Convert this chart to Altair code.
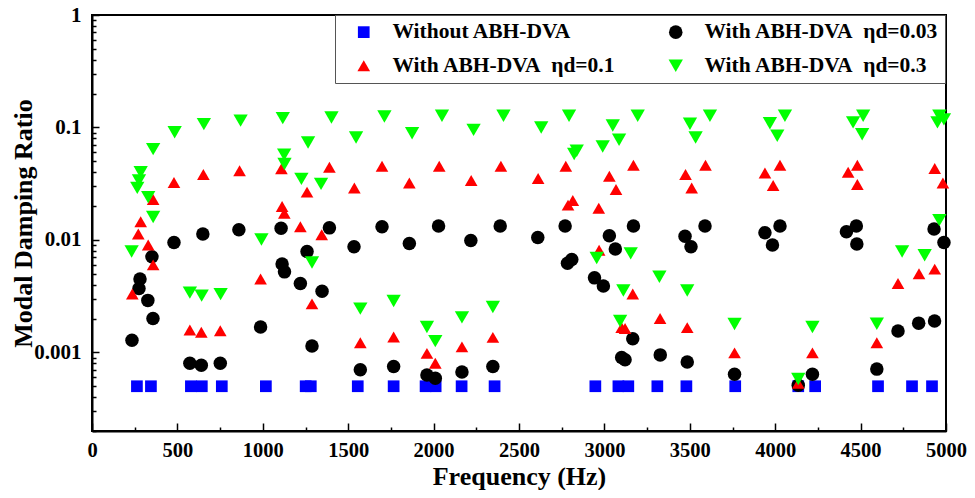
import altair as alt
import pandas as pd

# ---- data ----
series_names = [
    "Without ABH-DVA",
    "With ABH-DVA\u00a0\u00a0\u03b7d=0.03",
    "With ABH-DVA\u00a0\u00a0\u03b7d=0.1",
    "With ABH-DVA\u00a0\u00a0\u03b7d=0.3",
]
series_colors = ["#0000FF", "#000000", "#FF0000", "#00FF00"]
series_shapes = ["square", "circle", "triangle-up", "triangle-down"]
series_sizes = [137, 165, 205, 210]
# legend reading order (row by row, two columns)
legend_order = [0, 2, 1, 3]

freq_without = [263, 345, 579, 643, 760, 1018, 1251, 1281, 1556, 1766, 1953, 2012,
                2164, 2357, 2947, 3082, 3140, 3310, 3480, 3766, 4135, 4234, 4602,
                4801, 4918]
ratio_without = [0.0005, 0.0005, 0.0005, 0.0005, 0.0005, 0.0005, 0.0005, 0.0005,
                 0.0005, 0.0005, 0.0005, 0.0005, 0.0005, 0.0005, 0.0005, 0.0005,
                 0.0005, 0.0005, 0.0005, 0.0005, 0.0005, 0.0005, 0.0005, 0.0005,
                 0.0005]

freq_003 = [234, 275, 281, 327, 351, 357, 480, 573, 640, 649, 751, 860, 987, 1107,
            1113, 1127, 1220, 1259, 1288, 1347, 1390, 1534, 1571, 1698, 1766, 1858,
            1961, 2010, 2029, 2166, 2218, 2347, 2390, 2610, 2770, 2784, 2809, 2942,
            2994, 3029, 3064, 3101, 3121, 3166, 3170, 3327, 3472, 3485, 3507, 3589,
            3762, 3940, 3984, 4028, 4135, 4218, 4417, 4475, 4478, 4595, 4719, 4840,
            4933, 4930, 4988]
ratio_003 = [0.00128, 0.0037, 0.0045, 0.0029, 0.0071, 0.0020, 0.0095, 0.00080,
             0.00077, 0.0113, 0.00080, 0.0123, 0.00168, 0.0127, 0.0061, 0.0052,
             0.0041, 0.0079, 0.00114, 0.0035, 0.0128, 0.0087, 0.00070, 0.0131,
             0.00075, 0.0093, 0.00063, 0.00059, 0.0133, 0.00067, 0.0099, 0.00075,
             0.0133, 0.0105, 0.0133, 0.0062, 0.0067, 0.0046, 0.0039, 0.0109, 0.0083,
             0.00090, 0.00086, 0.00132, 0.0133, 0.00095, 0.0108, 0.00082, 0.0087,
             0.0133, 0.00064, 0.0116, 0.0090, 0.0133, 0.00051, 0.00064, 0.0118,
             0.0133, 0.0092, 0.00071, 0.00155, 0.00182, 0.0019, 0.0125, 0.0095]

freq_01 = [236, 271, 285, 329, 358, 358, 480, 573, 640, 652, 751, 864, 987, 1109,
           1113, 1126, 1220, 1259, 1288, 1345, 1390, 1536, 1571, 1698, 1766, 1858,
           1961, 2010, 2033, 2166, 2220, 2347, 2394, 2612, 2774, 2787, 2815, 2967,
           2969, 3029, 3068, 3101, 3121, 3166, 3170, 3326, 3475, 3485, 3511, 3592,
           3762, 3940, 3988, 4028, 4135, 4218, 4427, 4481, 4481, 4595, 4719, 4842,
           4934, 4934, 4982]
ratio_01 = [0.0033, 0.0113, 0.0145, 0.0090, 0.0229, 0.0060, 0.0324, 0.00158,
            0.00151, 0.0381, 0.00156, 0.0412, 0.0045, 0.0429, 0.0198, 0.0173,
            0.0131, 0.0266, 0.0027, 0.0111, 0.0442, 0.029, 0.00122, 0.0452,
            0.00137, 0.0321, 0.00098, 0.00080, 0.0452, 0.00112, 0.0338, 0.00136,
            0.0452, 0.0352, 0.0452, 0.0204, 0.0224, 0.0191, 0.0081, 0.0368, 0.0281,
            0.00166, 0.00163, 0.0033, 0.0461, 0.0020, 0.0381, 0.00166, 0.029,
            0.0461, 0.00099, 0.0394, 0.0305, 0.0461, 0.00053, 0.00099, 0.040,
            0.0461, 0.0311, 0.00122, 0.0041, 0.0050, 0.0055, 0.0431, 0.0321]

freq_03 = [232, 265, 275, 285, 329, 358, 358, 484, 573, 642, 655, 753, 870, 992,
           1117, 1125, 1127, 1226, 1265, 1288, 1341, 1402, 1546, 1571, 1712, 1766,
           1874, 1961, 2010, 2049, 2166, 2234, 2347, 2409, 2630, 2793, 2823, 2838,
           2955, 2990, 3049, 3086, 3092, 3111, 3154, 3195, 3322, 3485, 3501, 3534,
           3618, 3762, 3969, 4012, 4057, 4135, 4218, 4456, 4509, 4515, 4595, 4743,
           4875, 4961, 4961, 4950, 4988]
ratio_03 = [0.0079, 0.029, 0.0338, 0.040, 0.024, 0.0642, 0.016, 0.0907, 0.0034,
            0.0032, 0.107, 0.0033, 0.115, 0.0101, 0.121, 0.0573, 0.0473, 0.0349,
            0.0736, 0.0063, 0.0315, 0.1225, 0.0814, 0.00245, 0.125, 0.00286,
            0.0889, 0.00168, 0.00126, 0.127, 0.00205, 0.0952, 0.00253, 0.127,
            0.100, 0.127, 0.058, 0.062, 0.0069, 0.0678, 0.104, 0.0777, 0.0019,
            0.00355, 0.0076, 0.127, 0.0047, 0.00355, 0.108, 0.0814, 0.127, 0.00179,
            0.109, 0.0843, 0.127, 0.00058, 0.00168, 0.111, 0.0871, 0.127, 0.0018,
            0.0079, 0.0073, 0.015, 0.127, 0.111, 0.118]

x_label_values = [0, 500, 1000, 1500, 2000, 2500, 3000, 3500, 4000, 4500, 5000]
x_minor_values = [250, 750, 1250, 1750, 2250, 2750, 3250, 3750, 4250, 4750]
y_label_values = [0.001, 0.01, 0.1, 1]
y_minor_values = [0.0002, 0.0003, 0.0004, 0.0005, 0.0006, 0.0007, 0.0008, 0.0009,
                  0.002, 0.003, 0.004, 0.005, 0.006, 0.007, 0.008, 0.009,
                  0.02, 0.03, 0.04, 0.05, 0.06, 0.07, 0.08, 0.09,
                  0.2, 0.3, 0.4, 0.5, 0.6, 0.7, 0.8, 0.9]

frames = []
for name, fr, rt in [(series_names[0], freq_without, ratio_without),
                     (series_names[1], freq_003, ratio_003),
                     (series_names[2], freq_01, ratio_01),
                     (series_names[3], freq_03, ratio_03)]:
    frames.append(pd.DataFrame({"freq": fr, "ratio": rt, "series": name}))
df = pd.concat(frames, ignore_index=True)

dom = [series_names[i] for i in legend_order]
col_range = [series_colors[i] for i in legend_order]
shp_range = [series_shapes[i] for i in legend_order]
size_range = [series_sizes[i] for i in legend_order]

FONT = "Liberation Serif"
W, H = 854, 416
xscale = alt.Scale(domain=[0, 5000], nice=False, zero=False)
yscale = alt.Scale(type="log", domain=[0.0002, 1], nice=False)

x_main = alt.Axis(orient="bottom", values=x_label_values, ticks=False, domain=True,
                  domainColor="black", domainWidth=2, grid=False, format="d",
                  labelFont=FONT, labelFontSize=20.5, labelFontWeight="bold",
                  labelColor="black", labelPadding=25, labelBaseline="alphabetic",
                  labelFlush=False, labelOverlap=False,
                  title="Frequency (Hz)", titleFont=FONT, titleFontSize=26,
                  titleFontWeight="bold", titleColor="black", titleX=W / 2,
                  titleY=53, titleBaseline="alphabetic", titleAlign="center")
y_main = alt.Axis(orient="left", values=y_label_values, ticks=False, domain=True,
                  domainColor="black", domainWidth=2, grid=False, format="~g",
                  labelFont=FONT, labelFontSize=21, labelFontWeight="bold",
                  labelColor="black", labelPadding=11, labelFlush=False,
                  labelOverlap=False,
                  title="Modal Damping Ratio", titleFont=FONT, titleFontSize=26,
                  titleFontWeight="bold", titleColor="black", titleX=-61,
                  titleY=H / 2, titleAngle=270, titleBaseline="alphabetic",
                  titleAlign="center")

def tick_axis(orient, values, size):
    return alt.Axis(orient=orient, values=values, labels=False, domain=False,
                    ticks=True, tickSize=size, tickWidth=1.5, tickColor="black",
                    offset=-size, grid=False, title=None)

points = alt.Chart(df).mark_point(filled=True, opacity=1, strokeWidth=0).encode(
    x=alt.X("freq:Q", scale=xscale, axis=x_main),
    y=alt.Y("ratio:Q", scale=yscale, axis=y_main),
    color=alt.Color("series:N",
                    scale=alt.Scale(domain=dom, range=col_range),
                    legend=alt.Legend(title=None, orient="none", legendX=243,
                                      legendY=0, columns=2, columnPadding=37,
                                      rowPadding=11, padding=6, symbolOffset=12,
                                      labelOffset=18, strokeColor="#555555",
                                      fillColor="white", symbolSize=150,
                                      symbolStrokeWidth=0, labelFont=FONT,
                                      labelFontSize=21.5, labelFontWeight="bold",
                                      labelColor="black", labelLimit=400)),
    shape=alt.Shape("series:N", scale=alt.Scale(domain=dom, range=shp_range)),
    size=alt.Size("series:N", scale=alt.Scale(domain=dom, range=size_range),
                  legend=None),
)

major = alt.Chart(df).mark_point(opacity=0).encode(
    x=alt.X("freq:Q", scale=xscale, axis=tick_axis("bottom", x_label_values, 8)),
    y=alt.Y("ratio:Q", scale=yscale, axis=tick_axis("left", y_label_values, 7)),
)
minor = alt.Chart(df).mark_point(opacity=0).encode(
    x=alt.X("freq:Q", scale=xscale, axis=tick_axis("bottom", x_minor_values, 4)),
    y=alt.Y("ratio:Q", scale=yscale, axis=tick_axis("left", y_minor_values, 4)),
)

chart = alt.layer(points, major, minor).resolve_axis(
    x="independent", y="independent"
).properties(
    width=W, height=H,
    autosize=alt.AutoSizeParams(type="none"),
    padding={"left": 84, "top": 7, "right": 21, "bottom": 59},
    background="white",
).configure_view(stroke="black", strokeWidth=2)

chart.save("out.html", embed_options={"renderer": "svg", "actions": False})
